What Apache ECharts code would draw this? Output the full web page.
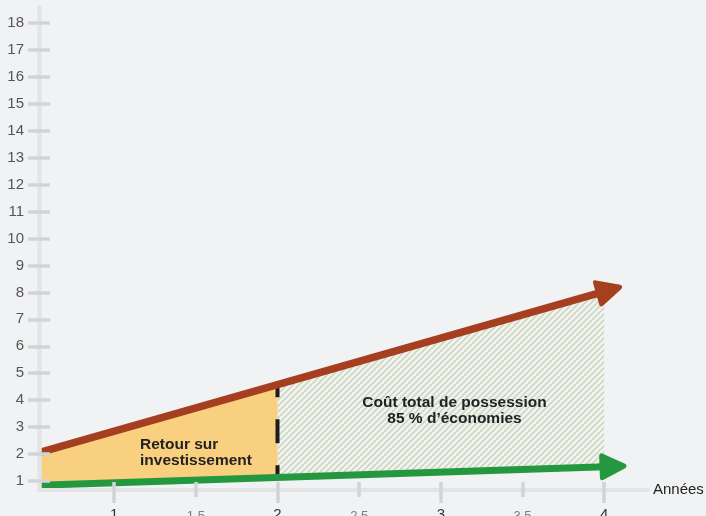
<!DOCTYPE html>
<html lang="fr">
<head>
<meta charset="utf-8">
<title>Retour sur investissement et coût total de possession</title>
<script src="https://cdn.jsdelivr.net/npm/echarts@6/dist/echarts.min.js"></script>
<style>
  html, body { margin: 0; padding: 0; background: #f1f2f4; }
  #chart { width: 706px; height: 516px; }
</style>
</head>
<body>
<div id="chart"></div>
<script>
// Années (début de l'axe, fin du retour sur investissement, fin de la période)
const years = [0.54, 2, 4];
// Coût total de possession de la solution existante (courbe rouge)
const coutExistant = [2.05, 4.55, 8.0];
// Coût total de possession de la nouvelle solution (courbe verte)
const coutSolution = [0.84, 1.14, 1.53];
// Extrémités des flèches (centre de la pointe)
const redArrowEnd = [4.03, 8.08];
const greenArrowEnd = [4.054, 1.54];

// Graduations
const yTicks = [1, 2, 3, 4, 5, 6, 7, 8, 9, 10, 11, 12, 13, 14, 15, 16, 17, 18];
const xMajorTicks = [1, 2, 3, 4];
const xMinorTicks = [1.5, 2.5, 3.5];
const xLabels = [1, 1.5, 2, 2.5, 3, 3.5, 4];

const X_MIN = 0.54, X_MAX = 4.268;
const Y_MIN = 0.666, Y_MAX = 18.59;

const FONT = '"Liberation Sans", Arial, Helvetica, sans-serif';
const RED = '#a53f1f';
const GREEN = '#24983f';
const ORANGE = '#f8d080';
const TICK = { color: '#d2d3d5', width: 3.5 };

// Hachures diagonales de la zone d'économies
function hatchPattern() {
  const s = 6;
  const c = document.createElement('canvas');
  c.width = s; c.height = s;
  const ctx = c.getContext('2d');
  ctx.strokeStyle = '#cad5b4';
  ctx.lineWidth = 1.5;
  ctx.beginPath();
  ctx.moveTo(0, s); ctx.lineTo(s, 0);
  ctx.moveTo(-s / 2, s / 2); ctx.lineTo(s / 2, -s / 2);
  ctx.moveTo(s / 2, s * 1.5); ctx.lineTo(s * 1.5, s / 2);
  ctx.stroke();
  return c;
}
const zoneFills = [ORANGE, { image: hatchPattern(), repeat: 'repeat' }];

// Segments entre les deux courbes : [x0, x1, bas0, bas1, haut0, haut1]
const segments = years.slice(0, -1).map((x, i) => [
  x, years[i + 1], coutSolution[i], coutSolution[i + 1], coutExistant[i], coutExistant[i + 1]
]);

const ARROW = 'path://M12.6,2.2Q15,-0.6 17.4,2.2L29.2,23.4Q31,27 27,27L3,27Q-1,27 0.8,23.4Z';

const chart = echarts.init(document.getElementById('chart'), null, { renderer: 'canvas' });

const baseX = {
  type: 'value', min: X_MIN, max: X_MAX, position: 'bottom', z: 5,
  splitLine: { show: false }
};
const baseY = {
  type: 'value', min: Y_MIN, max: Y_MAX, position: 'left', z: 5,
  splitLine: { show: false }
};

chart.setOption({
  backgroundColor: '#f1f2f4',
  animation: false,
  grid: { left: 39, right: 58, top: 7, bottom: 26, containLabel: false, outerBoundsMode: 'none' },
  xAxis: [
    Object.assign({}, baseX, {
      name: 'Années',
      nameLocation: 'end',
      nameGap: 5,
      nameTextStyle: { color: '#222', fontSize: 15, fontFamily: FONT, verticalAlign: 'middle' },
      axisLine: { show: true, onZero: false, lineStyle: { color: '#e3e4e6', width: 4 } },
      axisTick: { show: true, customValues: xMajorTicks, length: 13, lineStyle: TICK },
      axisLabel: {
        show: true, customValues: xLabels, margin: 17, interval: 0,
        formatter: v => Number.isInteger(v) ? '{maj|' + v + '}' : '{min|' + v + '}',
        rich: {
          maj: { fontSize: 15, color: '#333', fontFamily: FONT },
          min: { fontSize: 13, color: '#7d7d7d', fontFamily: FONT, padding: [3, 0, 0, 0] }
        }
      }
    }),
    Object.assign({}, baseX, {
      axisLine: { show: false, onZero: false },
      axisTick: { show: true, customValues: xMinorTicks, length: 7, lineStyle: TICK },
      axisLabel: { show: false }
    }),
    Object.assign({}, baseX, {
      axisLine: { show: false, onZero: false },
      axisTick: { show: true, inside: true, customValues: xLabels, length: 8, lineStyle: TICK },
      axisLabel: { show: false }
    })
  ],
  yAxis: [
    Object.assign({}, baseY, {
      axisLine: { show: true, onZero: false, lineStyle: { color: '#e3e4e6', width: 4.5 } },
      axisTick: { show: true, customValues: yTicks, length: 11, lineStyle: TICK },
      axisLabel: {
        show: true, customValues: yTicks, margin: 15, interval: 0,
        fontSize: 15, color: '#555', fontFamily: FONT
      }
    }),
    Object.assign({}, baseY, {
      axisLine: { show: false, onZero: false },
      axisTick: { show: true, inside: true, customValues: yTicks, length: 11, lineStyle: TICK },
      axisLabel: { show: false }
    })
  ],
  series: [
    {
      // Zones entre les courbes : retour sur investissement puis économies
      type: 'custom',
      xAxisIndex: 0, yAxisIndex: 0,
      z: 1,
      silent: true,
      data: segments,
      encode: { x: [0, 1], y: [2, 3, 4, 5] },
      renderItem: (params, api) => {
        const p = [
          api.coord([api.value(0), api.value(2)]),
          api.coord([api.value(1), api.value(3)]),
          api.coord([api.value(1), api.value(5)]),
          api.coord([api.value(0), api.value(4)])
        ];
        return {
          type: 'polygon',
          shape: { points: p },
          style: { fill: zoneFills[params.dataIndex], stroke: null }
        };
      }
    },
    {
      // Limite du retour sur investissement
      type: 'line',
      xAxisIndex: 0, yAxisIndex: 0,
      z: 2,
      silent: true,
      showSymbol: false,
      data: [[years[1], coutExistant[1]], [years[1], coutSolution[1]]],
      lineStyle: { color: '#1c1c1c', width: 4, type: [24, 22], dashOffset: 12 }
    },
    {
      // Courbes fléchées
      type: 'lines',
      coordinateSystem: 'cartesian2d',
      xAxisIndex: 0, yAxisIndex: 0,
      z: 3,
      clip: false,
      silent: true,
      symbol: ['none', ARROW],
      symbolSize: 27,
      data: [
        {
          coords: [[years[0], coutExistant[0]], redArrowEnd],
          lineStyle: { color: RED, width: 7.5, opacity: 1 }
        },
        {
          coords: [[years[0], coutSolution[0]], greenArrowEnd],
          lineStyle: { color: GREEN, width: 7, opacity: 1 }
        }
      ]
    }
  ],
  graphic: [
    {
      type: 'text', x: 140, y: 452.5, z: 10, silent: true,
      style: {
        text: 'Retour sur\ninvestissement',
        fill: '#222', fontSize: 15.5, fontWeight: 'bold', fontFamily: FONT,
        lineHeight: 16, align: 'left', verticalAlign: 'middle'
      }
    },
    {
      type: 'text', x: 454.5, y: 410.5, z: 10, silent: true,
      style: {
        text: 'Coût total de possession\n85 % d\u2019économies',
        fill: '#222', fontSize: 15.5, fontWeight: 'bold', fontFamily: FONT,
        lineHeight: 16.5, align: 'center', verticalAlign: 'middle'
      }
    }
  ]
});
</script>
</body>
</html>
